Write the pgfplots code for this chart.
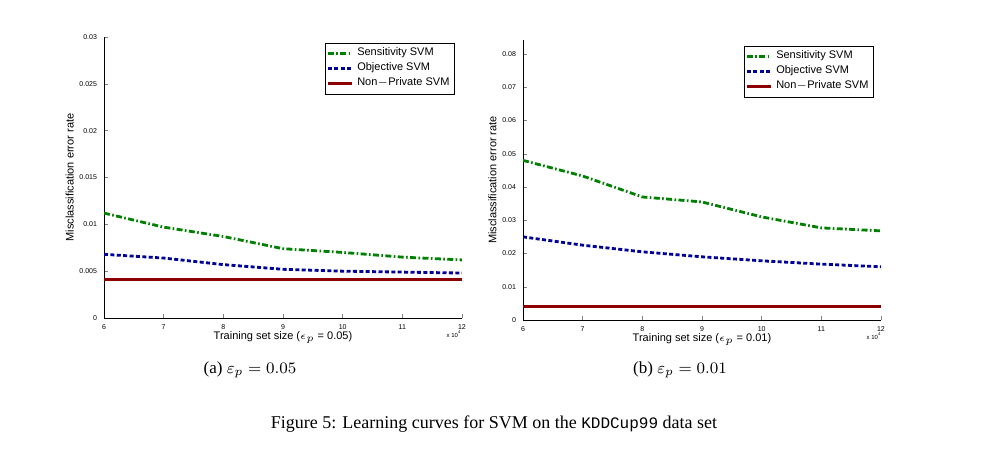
\documentclass[border=0pt]{standalone}
\usepackage{pgfplots}
\pgfplotsset{compat=1.18}
\usepackage{fontspec}
\setmainfont{Liberation Sans}
\newfontfamily\serif{Liberation Serif}
\newfontfamily\mono{Liberation Mono}
\pgfplotsset{
 myax/.style={scale only axis, width=179pt, anchor=south west,
  axis x line*=bottom, axis y line*=left, tick align=inside, major tick length=2pt,
  scaled y ticks=false, scaled x ticks=false,
  xmin=6, xmax=12, xtick={6,...,12}, ymin=0,
  /pgf/number format/assume math mode=true,
  tick label style={font=\fontsize{3.5}{4}\selectfont},
  label style={font=\fontsize{5.5}{6}\selectfont},
  ylabel style={yshift=-4pt}, xlabel style={yshift=6pt},
  legend style={font=\fontsize{5.5}{6}\selectfont, at={(0.98,0.98)}, anchor=north east, inner sep=0.5pt, row sep=-2pt, draw=black},
  legend image post style={xscale=0.7},
  legend cell align=left,
  yticklabel style={/pgf/number format/fixed, /pgf/number format/precision=3},
 },
 sen/.style={green!50!black, line width=1.4pt, dash pattern=on 3pt off 1.2pt on 0.8pt off 1.2pt},
 obj/.style={blue!60!black, line width=1.4pt, dash pattern=on 2pt off 1.2pt},
 np/.style={red!55!black, line width=1.4pt},
}
\begin{document}
\begin{tikzpicture}
\path (0,0) rectangle (492.5pt,228pt);
\begin{axis}[myax, at={(52pt,69pt)}, height=140.5pt, ymax=0.03,
 ytick={0,0.005,0.01,0.015,0.02,0.025,0.03},
 yticklabels={0,0.005,0.01,0.015,0.02,0.025,0.03},
 xlabel={Training set size ($\epsilon_p$ = 0.05)}, ylabel={Misclassification error rate}]
\addplot[sen] coordinates {(6,0.0112)(7,0.0097)(8,0.0087)(9,0.0074)(10,0.0070)(11,0.0065)(12,0.0062)};
\addplot[obj] coordinates {(6,0.0068)(7,0.0064)(8,0.0057)(9,0.0052)(10,0.0050)(11,0.0049)(12,0.0048)};
\addplot[np] coordinates {(6,0.0041)(12,0.0041)};
\legend{Sensitivity SVM,Objective SVM,Non$-$Private SVM}
\end{axis}
\node[font=\fontsize{3}{4}\selectfont] at (227pt,61pt) {x 10\textsuperscript{4}};
\begin{axis}[myax, at={(261.5pt,68pt)}, height=140pt, ymax=0.0842,
 ytick={0,0.01,0.02,0.03,0.04,0.05,0.06,0.07,0.08},
 yticklabels={0,0.01,0.02,0.03,0.04,0.05,0.06,0.07,0.08},
 xlabel={Training set size ($\epsilon_p$ = 0.01)}, ylabel={Misclassification error rate}]
\addplot[sen] coordinates {(6,0.048)(7,0.0433)(8,0.037)(9,0.0355)(10,0.031)(11,0.0277)(12,0.0268)};
\addplot[obj] coordinates {(6,0.025)(7,0.0225)(8,0.0205)(9,0.019)(10,0.0178)(11,0.0168)(12,0.016)};
\addplot[np] coordinates {(6,0.0041)(12,0.0041)};
\legend{Sensitivity SVM,Objective SVM,Non$-$Private SVM}
\end{axis}
\node[font=\fontsize{3}{4}\selectfont] at (437pt,60pt) {x 10\textsuperscript{4}};
\node[font=\serif\fontsize{8.5}{9}\selectfont] at (125pt,43pt) {(a) $\varepsilon_p = 0.05$};
\node[font=\serif\fontsize{8.5}{9}\selectfont] at (340pt,43pt) {(b) $\varepsilon_p = 0.01$};
\node[font=\serif\fontsize{9}{10}\selectfont] at (247pt,16pt) {Figure 5: Learning curves for SVM on the {\mono\fontsize{8}{9}\selectfont KDDCup99} data set};
\end{tikzpicture}
\end{document}
